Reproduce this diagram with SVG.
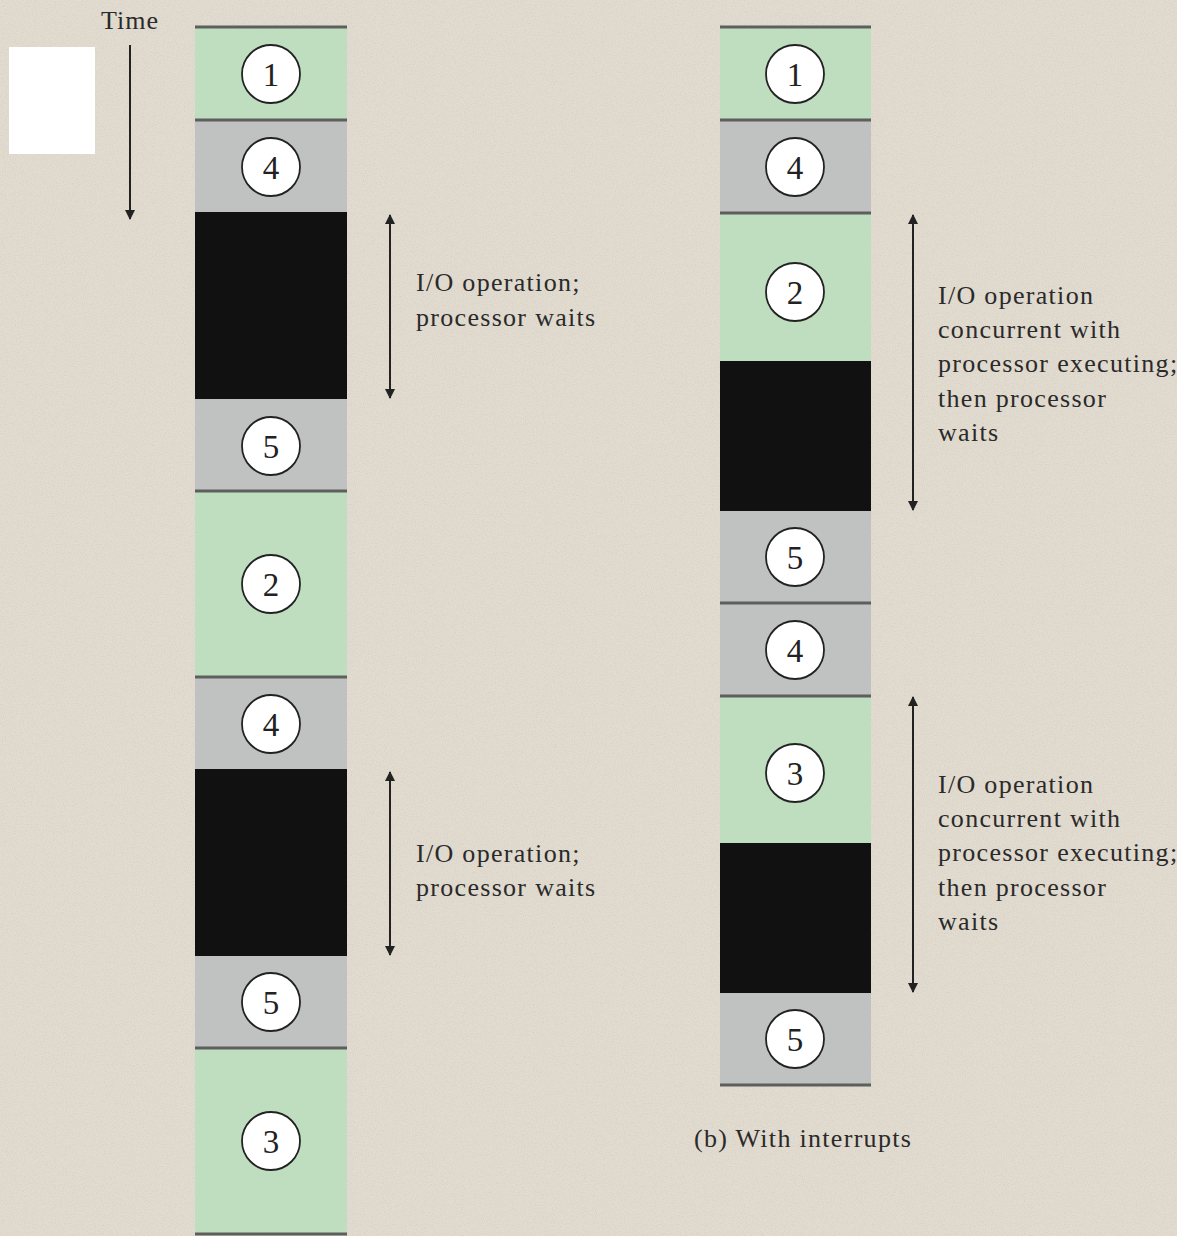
<svg xmlns="http://www.w3.org/2000/svg" width="1177" height="1236" viewBox="0 0 1177 1236">
<defs>
<style>
.g{fill:#bfdec0}
.y{fill:#c0c1c1}
.k{fill:#111111}
.div{stroke:#5c5f5c;stroke-width:3}
.c{fill:#ffffff;stroke:#222;stroke-width:1.8}
.n{font-family:"Liberation Serif",serif;font-size:33px;fill:#222;text-anchor:middle}
.t{font-family:"Liberation Serif",serif;font-size:26px;letter-spacing:1.3px;fill:#2a2a2a}
.ar{stroke:#222;stroke-width:2;fill:none}
</style>
<filter id="grain" x="0" y="0" width="100%" height="100%">
<feTurbulence type="fractalNoise" baseFrequency="0.9" numOctaves="2" seed="3"/>
<feColorMatrix type="matrix" values="0 0 0 0 0.55  0 0 0 0 0.5  0 0 0 0 0.42  0 0 0 -2.2 1.25"/>
</filter>
<marker id="ah" viewBox="0 0 10 10" refX="9" refY="5" markerWidth="10" markerHeight="10" markerUnits="userSpaceOnUse" orient="auto-start-reverse">
<path d="M0,0 L10,5 L0,10 z" fill="#222"/>
</marker>
</defs>
<rect width="1177" height="1236" fill="#e2dbd0"/>
<rect width="1177" height="1236" filter="url(#grain)" opacity="0.35"/>
<rect x="9" y="47" width="86" height="107" fill="#ffffff"/>
<g id="time">
<text class="t" x="130" y="29" text-anchor="middle" style="letter-spacing:1px">Time</text>
<line class="ar" x1="130" y1="45" x2="130" y2="219" marker-end="url(#ah)"/>
</g>
<g id="colA">
<g id="a1"><rect class="g" x="195" y="27" width="152" height="93"/><circle class="c" cx="271" cy="74" r="29"/><text class="n" x="271" y="86">1</text></g>
<g id="a4"><rect class="y" x="195" y="120" width="152" height="92"/><circle class="c" cx="271" cy="167" r="29"/><text class="n" x="271" y="179">4</text></g>
<g id="aio1"><rect class="k" x="195" y="212" width="152" height="187"/></g>
<g id="a5"><rect class="y" x="195" y="399" width="152" height="92"/><circle class="c" cx="271" cy="446" r="29"/><text class="n" x="271" y="458">5</text></g>
<g id="a2"><rect class="g" x="195" y="491" width="152" height="186"/><circle class="c" cx="271" cy="584" r="29"/><text class="n" x="271" y="596">2</text></g>
<g id="a4b"><rect class="y" x="195" y="677" width="152" height="92"/><circle class="c" cx="271" cy="724" r="29"/><text class="n" x="271" y="736">4</text></g>
<g id="aio2"><rect class="k" x="195" y="769" width="152" height="187"/></g>
<g id="a5b"><rect class="y" x="195" y="956" width="152" height="92"/><circle class="c" cx="271" cy="1002" r="29"/><text class="n" x="271" y="1014">5</text></g>
<g id="a3"><rect class="g" x="195" y="1048" width="152" height="185"/><circle class="c" cx="271" cy="1141" r="29"/><text class="n" x="271" y="1153">3</text></g>
<line class="div" x1="195" y1="27" x2="347" y2="27"/>
<line class="div" x1="195" y1="120" x2="347" y2="120"/>
<line class="div" x1="195" y1="491" x2="347" y2="491"/>
<line class="div" x1="195" y1="677" x2="347" y2="677"/>
<line class="div" x1="195" y1="1048" x2="347" y2="1048"/>
<line class="div" x1="195" y1="1234" x2="347" y2="1234"/>
</g>
<g id="colB">
<g id="b1"><rect class="g" x="720" y="27" width="151" height="93"/><circle class="c" cx="795" cy="74" r="29"/><text class="n" x="795" y="86">1</text></g>
<g id="b4"><rect class="y" x="720" y="120" width="151" height="93"/><circle class="c" cx="795" cy="167" r="29"/><text class="n" x="795" y="179">4</text></g>
<g id="b2"><rect class="g" x="720" y="213" width="151" height="148"/><circle class="c" cx="795" cy="292" r="29"/><text class="n" x="795" y="304">2</text></g>
<g id="bio1"><rect class="k" x="720" y="361" width="151" height="150"/></g>
<g id="b5"><rect class="y" x="720" y="511" width="151" height="92"/><circle class="c" cx="795" cy="557" r="29"/><text class="n" x="795" y="569">5</text></g>
<g id="b4b"><rect class="y" x="720" y="603" width="151" height="93"/><circle class="c" cx="795" cy="650" r="29"/><text class="n" x="795" y="662">4</text></g>
<g id="b3"><rect class="g" x="720" y="696" width="151" height="147"/><circle class="c" cx="795" cy="773" r="29"/><text class="n" x="795" y="785">3</text></g>
<g id="bio2"><rect class="k" x="720" y="843" width="151" height="150"/></g>
<g id="b5b"><rect class="y" x="720" y="993" width="151" height="92"/><circle class="c" cx="795" cy="1039" r="29"/><text class="n" x="795" y="1051">5</text></g>
<line class="div" x1="720" y1="27" x2="871" y2="27"/>
<line class="div" x1="720" y1="120" x2="871" y2="120"/>
<line class="div" x1="720" y1="213" x2="871" y2="213"/>
<line class="div" x1="720" y1="603" x2="871" y2="603"/>
<line class="div" x1="720" y1="696" x2="871" y2="696"/>
<line class="div" x1="720" y1="1085" x2="871" y2="1085"/>
</g>
<g id="connectors">
<line class="ar" x1="390" y1="215" x2="390" y2="398" marker-start="url(#ah)" marker-end="url(#ah)"/>
<line class="ar" x1="390" y1="772" x2="390" y2="955" marker-start="url(#ah)" marker-end="url(#ah)"/>
<line class="ar" x1="913" y1="215" x2="913" y2="510" marker-start="url(#ah)" marker-end="url(#ah)"/>
<line class="ar" x1="913" y1="697" x2="913" y2="992" marker-start="url(#ah)" marker-end="url(#ah)"/>
</g>
<g id="labels">
<text class="t" x="416" y="291">I/O operation;</text>
<text class="t" x="416" y="326">processor waits</text>
<text class="t" x="416" y="862">I/O operation;</text>
<text class="t" x="416" y="896">processor waits</text>
<text class="t" x="938" y="304">I/O operation</text>
<text class="t" x="938" y="338">concurrent with</text>
<text class="t" x="938" y="372">processor executing;</text>
<text class="t" x="938" y="407">then processor</text>
<text class="t" x="938" y="441">waits</text>
<text class="t" x="938" y="793">I/O operation</text>
<text class="t" x="938" y="827">concurrent with</text>
<text class="t" x="938" y="861">processor executing;</text>
<text class="t" x="938" y="896">then processor</text>
<text class="t" x="938" y="930">waits</text>
<text class="t" x="694" y="1147">(b) With interrupts</text>
</g>
</svg>
